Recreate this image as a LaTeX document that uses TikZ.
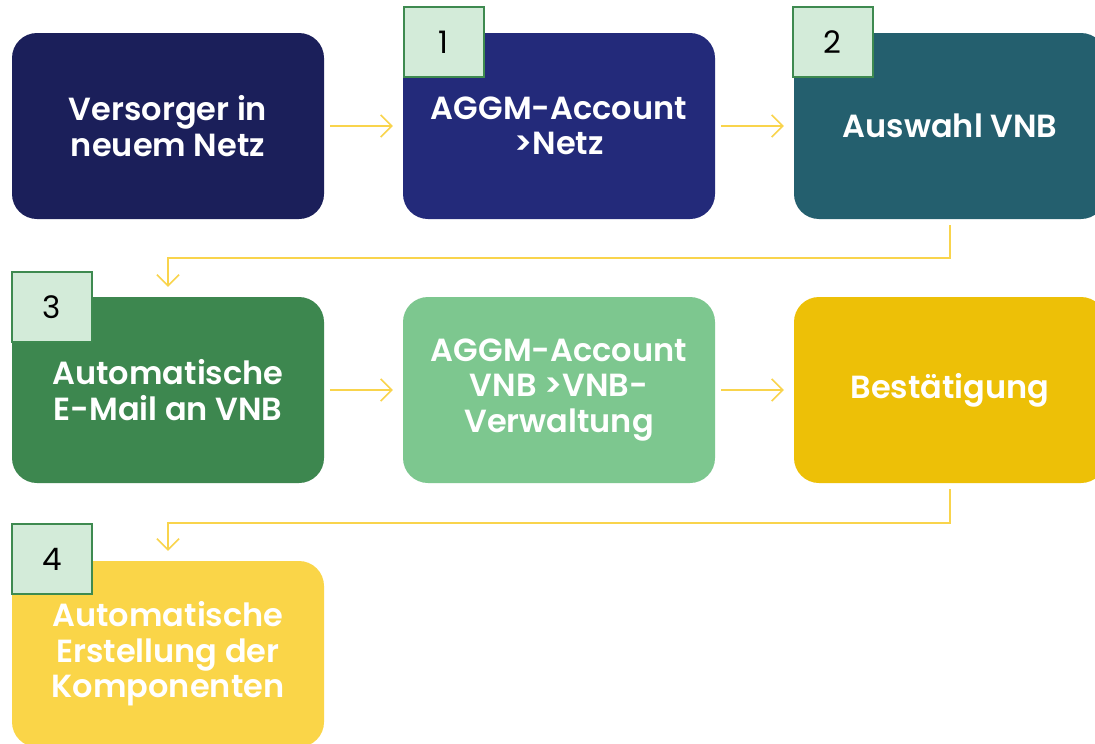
\documentclass[tikz,border=0pt]{standalone}
\usepackage{fontspec}
\setmainfont{Poppins}[BoldFont={Poppins SemiBold}]
\usetikzlibrary{arrows.meta}
\definecolor{cA}{HTML}{1B1F5A}
\definecolor{cB}{HTML}{232A7A}
\definecolor{cC}{HTML}{245F6E}
\definecolor{cD}{HTML}{3D874F}
\definecolor{cE}{HTML}{7DC78F}
\definecolor{cF}{HTML}{EDC007}
\definecolor{cG}{HTML}{FAD548}
\definecolor{arr}{HTML}{F9D44C}
\definecolor{badgefill}{HTML}{D3EBD9}
\definecolor{badgeline}{HTML}{3E8A50}
\tikzset{
  stepbox/.style={rectangle, rounded corners=25pt, minimum width=312pt, minimum height=186pt,
    inner sep=0pt, text=white, align=center,
    font=\fontsize{32}{35.5}\selectfont\bfseries},
  badge/.style={rectangle, fill=badgefill, draw=badgeline, line width=2pt,
    minimum width=80pt, minimum height=70pt, inner sep=0pt,
    font=\fontsize{31}{34}\selectfont, text=black},
  flow/.style={draw=arr, line width=1.6pt, -{Straight Barb[length=11pt,width=22pt,line width=1.6pt]}},
}
\begin{document}
\begin{tikzpicture}[x=1pt,y=-1pt]
\useasboundingbox (0,0) rectangle (1095,744);
\clip (0,0) rectangle (1095,744);
\fill[white] (0,0) rectangle (1095,744);
% row 1
\node[stepbox, fill=cA] (b1) at (168,126) {Versorger in\\neuem Netz};
\node[stepbox, fill=cB] (b2) at (559,126) {AGGM-Account\\>Netz};
\node[stepbox, fill=cC] (b3) at (950,126) {Auswahl VNB};
% row 2
\node[stepbox, fill=cD] (b4) at (168,390) {Automatische\\E-Mail an VNB};
\node[stepbox, fill=cE] (b5) at (559,390) {AGGM-Account\\VNB >VNB-\\Verwaltung};
\node[stepbox, fill=cF] (b6) at (950,390) {Bestätigung};
% row 3
\node[stepbox, fill=cG] (b7) at (168,654) {Automatische\\Erstellung der\\Komponenten};
% badges
\node[badge] (n1) at (443.5,42) {1};
\node[badge] (n2) at (832.5,42) {2};
\node[badge] (n3) at (52,307) {3};
\node[badge] (n4) at (52,559) {4};
% connectors
\coordinate (a1s) at ([xshift=6pt]b1.east);
\coordinate (a1e) at ([xshift=-10pt]b2.west);
\draw[flow] (a1s) -- (a1e);
\coordinate (a2s) at ([xshift=6pt]b2.east);
\coordinate (a2e) at ([xshift=-10pt]b3.west);
\draw[flow] (a2s) -- (a2e);
\coordinate (a4s) at ([xshift=6pt]b4.east);
\coordinate (a4e) at ([xshift=-10pt]b5.west);
\draw[flow] (a4s) -- (a4e);
\coordinate (a5s) at ([xshift=6pt]b5.east);
\coordinate (a5e) at ([xshift=-10pt]b6.west);
\draw[flow] (a5s) -- (a5e);
\coordinate (c3s) at ([yshift=-6pt]b3.south);
\coordinate (c3e) at ([yshift=10pt]b4.north);
\draw[flow] (c3s) -- ++(0,33) -| (c3e);
\coordinate (c6s) at ([yshift=-6pt]b6.south);
\coordinate (c6e) at ([yshift=10pt]b7.north);
\draw[flow] (c6s) -- ++(0,34) -| (c6e);
\end{tikzpicture}
\end{document}
